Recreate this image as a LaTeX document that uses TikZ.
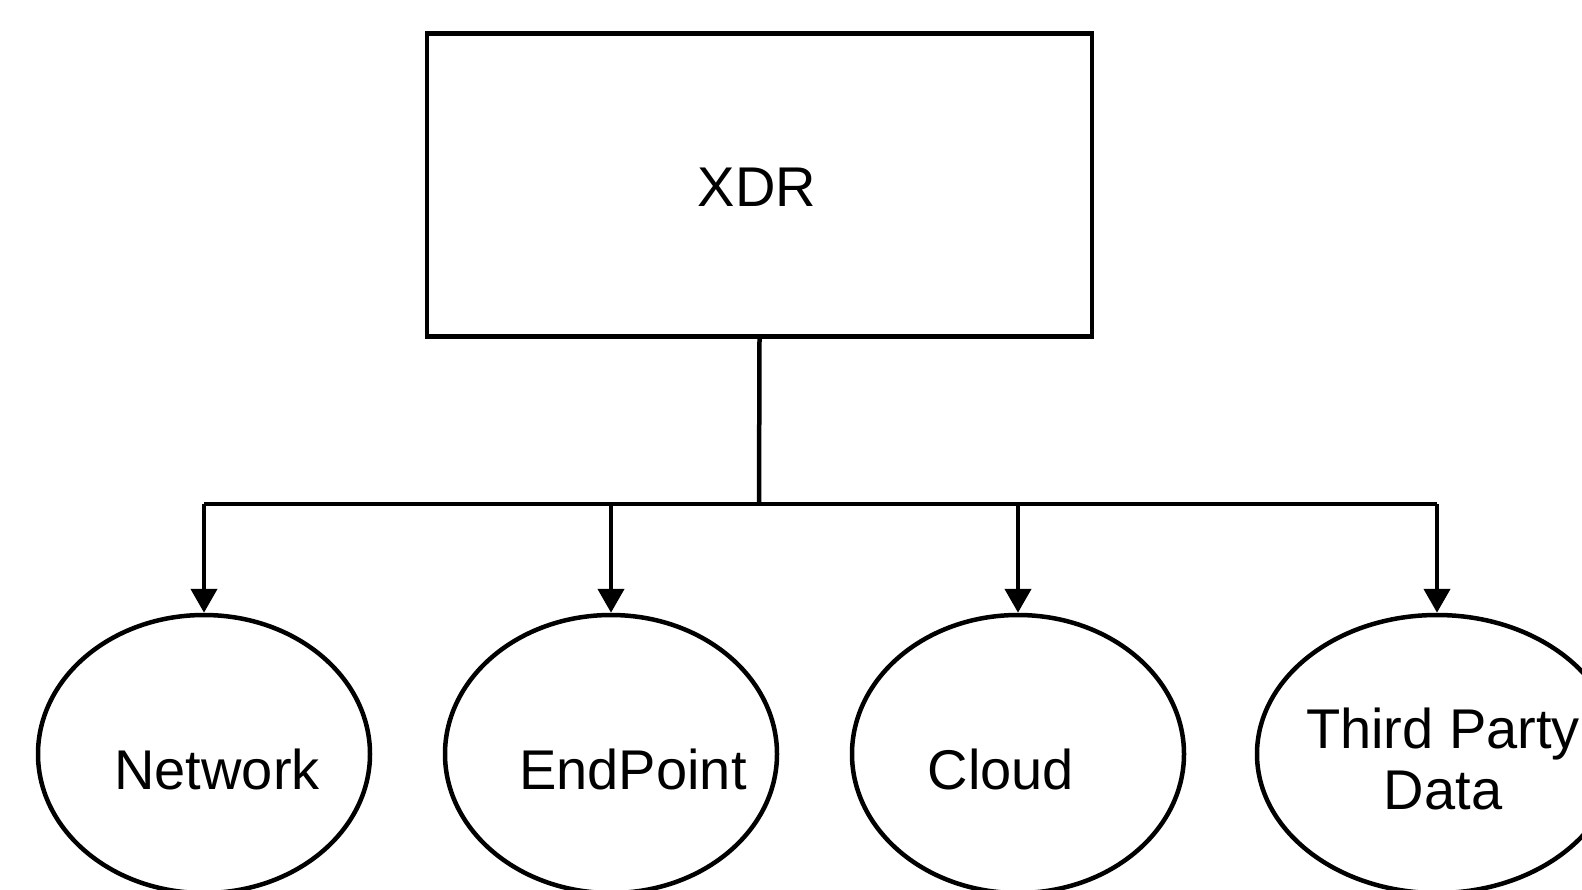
\documentclass[tikz,border=0pt]{standalone}
\usepackage{fontspec}
\setmainfont{Liberation Sans}
\usetikzlibrary{shapes.geometric,arrows.meta}
\begin{document}
\begin{tikzpicture}[x=1pt,y=-1pt,
  lw/.style={line width=4.5pt},
  boxst/.style={draw,lw,rectangle,minimum width=665pt,minimum height=303pt,inner sep=0pt},
  ellst/.style={draw,lw,ellipse,minimum width=332pt,minimum height=278pt,inner sep=0pt},
  txt/.style={font=\fontsize{56}{61}\selectfont,inner sep=0pt,anchor=base,align=center},
  arr/.style={lw,-{Triangle[width=26pt,length=24pt]}}]
\useasboundingbox (0,0) rectangle (1582,889);
\clip (0,0) rectangle (1582,889);
\fill[white] (0,0) rectangle (1582,889);
\node[boxst] (xdr) at (759.5,185) {};
\node[txt] (xdrt) at (757,206) {XDR};
\node[ellst] (net) at (204,754) {};
\node[ellst] (endp) at (611,754) {};
\node[ellst] (cloud) at (1018,754) {};
\node[ellst,minimum width=360pt] (tpd) at (1437,754) {};
\node[txt] (nett) at (217,789) {Network};
\node[txt] (endpt) at (633,789) {EndPoint};
\node[txt] (cloudt) at (1001,789) {Cloud};
\node[txt] (tpdt) at (1443,809) {Third Party\\Data};
\coordinate (bus) at (759,504);
\draw[lw] (xdr.south) -- (bus);
\draw[lw] (net.north |- bus) -- (tpd.north |- bus);
\draw[arr] (net.north |- bus) -- (net.north);
\draw[arr] (endp.north |- bus) -- (endp.north);
\draw[arr] (cloud.north |- bus) -- (cloud.north);
\draw[arr] (tpd.north |- bus) -- (tpd.north);
\end{tikzpicture}
\end{document}
